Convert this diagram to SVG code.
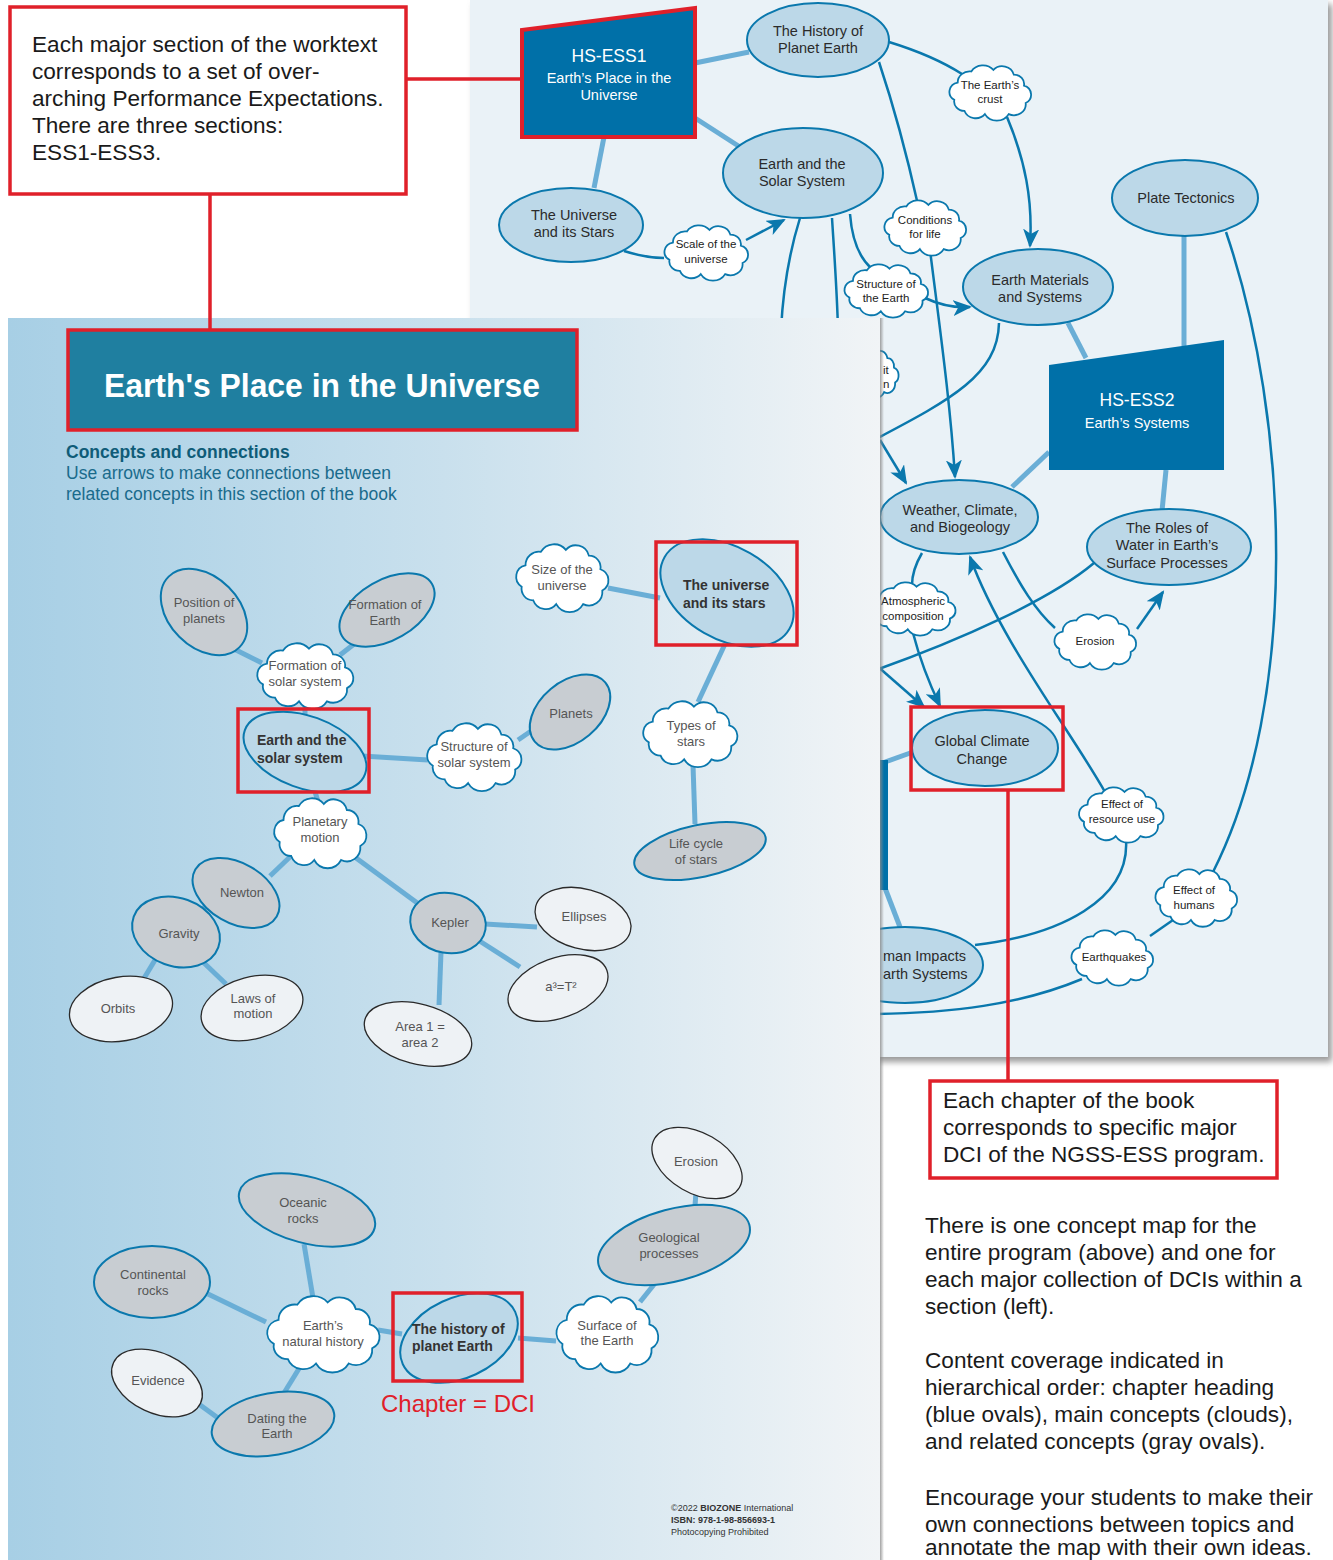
<svg xmlns="http://www.w3.org/2000/svg" width="1333" height="1560" viewBox="0 0 1333 1560">
<defs>
<style>
text{font-family:"Liberation Sans",Arial,sans-serif}
.tn{font-size:14.5px;fill:#2b2b2b;text-anchor:middle}
.tc{font-size:11.5px;fill:#222;text-anchor:middle}
.st{text-anchor:start}
.ln{font-size:13px;fill:#555;text-anchor:middle}
.lb{font-size:14px;fill:#333;font-weight:bold}
.ann{font-size:22.6px;fill:#1a1a1a}
.big{fill:#bcd8e8;stroke:#0a78ad;stroke-width:2}
.gray{fill:#c8cdd2;stroke:#0a78ad;stroke-width:2}
.lite{fill:#eef2f5;stroke:#2a2a2a;stroke-width:1.3}
.cloud{fill:#fff;stroke:#0a78ad;stroke-width:1.8}
.thick{stroke:#6aaed6;stroke-width:5;fill:none}
.thin{stroke:#0a78ad;stroke-width:2.5;fill:none}
.arr{marker-end:url(#ah)}
.red{fill:none;stroke:#e0202a;stroke-width:3.5}
.box{fill:#0070a8}
</style>
<marker id="ah" markerUnits="userSpaceOnUse" markerWidth="20" markerHeight="16" refX="17" refY="8" orient="auto">
<path d="M0,0 L19,8 L0,16 L5,8 Z" fill="#0a78ad"/>
</marker>
<path id="cl" vector-effect="non-scaling-stroke" d="M-38,-12 A14,14 0 0 1 -22,-26 A16,16 0 0 1 4,-28 A14,14 0 0 1 28,-22 A12,12 0 0 1 40,-8 A12,12 0 0 1 42,14 A14,14 0 0 1 22,28 A16,16 0 0 1 -6,28 A14,14 0 0 1 -30,24 A12,12 0 0 1 -42,10 A12,12 0 0 1 -38,-12 Z"/>
<linearGradient id="pg" x1="0" y1="0" x2="1" y2="0">
<stop offset="0" stop-color="#a7cfe5"/>
<stop offset="0.5" stop-color="#c9e0ed"/>
<stop offset="1" stop-color="#f1f4f6"/>
</linearGradient>
<linearGradient id="shg" x1="0" y1="0" x2="1" y2="0">
<stop offset="0" stop-color="#8a8a8a" stop-opacity="0.8"/>
<stop offset="1" stop-color="#8a8a8a" stop-opacity="0"/>
</linearGradient>
<filter id="sh" x="-5%" y="-5%" width="110%" height="110%"><feGaussianBlur stdDeviation="3"/></filter>
</defs>
<rect width="1333" height="1560" fill="#fff"/>

<!-- top-right page -->
<rect x="474" y="4" width="858" height="1058" fill="#9a9a9a" filter="url(#sh)"/>
<rect x="470" y="0" width="858" height="1057" fill="#eaf2f7"/>

<g id="connectors-top">
<path class="thick" d="M695,63 L749,52"/>
<path class="thick" d="M695,118 L740,147"/>
<path class="thick" d="M604,137 L594,188"/>
<path class="thick" d="M1184,236 L1184,346"/>
<path class="thick" d="M1068,323 L1086,358"/>
<path class="thick" d="M1049,452 L1012,487"/>
<path class="thick" d="M1166,470 L1162,511"/>
<path class="thick" d="M913,752 L885,762"/>
<path class="thick" d="M900,927 L885,888"/>
<path class="thin" d="M889,42 C915,50 940,60 962,74"/>
<path class="thin arr" d="M1007,117 C1025,160 1033,200 1030,246"/>
<path class="thin" d="M879,62 C895,110 908,160 918,205"/>
<path class="thin arr" d="M930,250 C940,330 950,400 955,477"/>
<path class="thin" d="M624,251 C640,256 650,258 664,258"/>
<path class="thin arr" d="M746,240 L784,220"/>
<path class="thin" d="M800,218 C790,250 783,290 781,330"/>
<path class="thin" d="M832,218 C834,250 837,290 838,330"/>
<path class="thin" d="M850,214 C852,240 860,258 871,268"/>
<path class="thin arr" d="M925,298 C940,305 955,308 970,307"/>
<path class="thin" d="M999,323 C998,375 950,400 876,439"/>
<path class="thin arr" d="M880,440 L906,483"/>
<path class="thin" d="M922,553 C915,565 912,575 912,585"/>
<path class="thin arr" d="M913,633 C920,660 930,685 940,706"/>
<path class="thin arr" d="M876,665 L924,707"/>
<path class="thin" d="M1094,563 C1050,600 960,640 876,670"/>
<path class="thin" d="M1003,552 C1020,585 1035,610 1055,628"/>
<path class="thin arr" d="M1137,629 L1163,592"/>
<path class="thin arr" d="M1105,792 C1070,730 1000,640 970,557"/>
<path class="thin" d="M1126,840 C1130,900 1060,935 975,945"/>
<path class="thin" d="M1226,232 C1290,420 1300,700 1213,872"/>
<path class="thin" d="M1150,936 L1173,920"/>
<path class="thin" d="M1082,979 C1020,1005 950,1013 876,1014"/>
</g>

<g id="n-ess1"><polygon points="522,30 695,8 695,137 522,137" class="box" stroke="#e0202a" stroke-width="4"/>
<text x="609" y="62" text-anchor="middle" font-size="17.5" fill="#fff">HS-ESS1</text>
<text x="609" y="83" text-anchor="middle" font-size="14.5" fill="#fff">Earth’s Place in the</text>
<text x="609" y="100" text-anchor="middle" font-size="14.5" fill="#fff">Universe</text></g>
<g id="n-history"><ellipse class="big" cx="818" cy="40" rx="71" ry="37"/><text class="tn" x="818" y="36">The History of</text><text class="tn" x="818" y="53">Planet Earth</text></g>
<g id="n-earthsolar"><ellipse class="big" cx="803" cy="173" rx="80" ry="45"/><text class="tn" x="802" y="169">Earth and the</text><text class="tn" x="802" y="186">Solar System</text></g>
<g id="n-universe"><ellipse class="big" cx="571" cy="225" rx="72" ry="37"/><text class="tn" x="574" y="220">The Universe</text><text class="tn" x="574" y="237">and its Stars</text></g>
<g id="n-plate"><ellipse class="big" cx="1185" cy="198" rx="73" ry="38"/><text class="tn" x="1186" y="203">Plate Tectonics</text></g>
<g id="n-materials"><ellipse class="big" cx="1038" cy="287" rx="75" ry="38"/><text class="tn" x="1040" y="285">Earth Materials</text><text class="tn" x="1040" y="302">and Systems</text></g>
<g id="n-ess3"><rect x="872" y="760" width="16" height="130" class="box"/></g>
<g id="n-ess2"><polygon points="1049,365 1224,340 1224,470 1049,470" class="box"/>
<text x="1137" y="406" text-anchor="middle" font-size="17.5" fill="#fff">HS-ESS2</text>
<text x="1137" y="428" text-anchor="middle" font-size="14.5" fill="#fff">Earth’s Systems</text></g>
<g id="n-weather"><ellipse class="big" cx="959" cy="517" rx="79" ry="37"/><text class="tn" x="960" y="515">Weather, Climate,</text><text class="tn" x="960" y="532">and Biogeology</text></g>
<g id="n-water"><ellipse class="big" cx="1169" cy="547" rx="82" ry="38"/><text class="tn" x="1167" y="533">The Roles of</text><text class="tn" x="1167" y="550">Water in Earth’s</text><text class="tn" x="1167" y="568">Surface Processes</text></g>
<g id="n-global"><ellipse class="big" cx="985" cy="748" rx="73" ry="38"/><text class="tn" x="982" y="746">Global Climate</text><text class="tn" x="982" y="764">Change</text></g>
<g id="n-human"><ellipse class="big" cx="905" cy="965" rx="78" ry="38"/><text class="tn st" x="883" y="961">man Impacts</text><text class="tn st" x="883" y="979">arth Systems</text></g>
<g id="n-crust"><use href="#cl" class="cloud" transform="translate(990,92) scale(0.85,0.79)"/><text class="tc" x="990" y="89">The Earth’s</text><text class="tc" x="990" y="103">crust</text></g>
<g id="n-scale"><use href="#cl" class="cloud" transform="translate(706,252) scale(0.87,0.79)"/><text class="tc" x="706" y="248">Scale of the</text><text class="tc" x="706" y="263">universe</text></g>
<g id="n-conditions"><use href="#cl" class="cloud" transform="translate(925,227) scale(0.85,0.79)"/><text class="tc" x="925" y="224">Conditions</text><text class="tc" x="925" y="238">for life</text></g>
<g id="n-structure"><use href="#cl" class="cloud" transform="translate(886,290) scale(0.87,0.76)"/><text class="tc" x="886" y="288">Structure of</text><text class="tc" x="886" y="302">the Earth</text></g>
<g id="n-orbit"><use href="#cl" class="cloud" transform="translate(872,373) scale(0.55,0.68)"/><text class="tc st" x="883" y="374">it</text><text class="tc st" x="883" y="388">n</text></g>
<g id="n-atmos"><use href="#cl" class="cloud" transform="translate(913,608) scale(0.88,0.76)"/><text class="tc" x="913" y="605">Atmospheric</text><text class="tc" x="913" y="620">composition</text></g>
<g id="n-erosion1"><use href="#cl" class="cloud" transform="translate(1095,641) scale(0.85,0.79)"/><text class="tc" x="1095" y="645">Erosion</text></g>
<g id="n-resource"><use href="#cl" class="cloud" transform="translate(1121,814) scale(0.88,0.79)"/><text class="tc" x="1122" y="808">Effect of</text><text class="tc" x="1122" y="823">resource use</text></g>
<g id="n-humans"><use href="#cl" class="cloud" transform="translate(1196,897) scale(0.85,0.82)"/><text class="tc" x="1194" y="894">Effect of</text><text class="tc" x="1194" y="909">humans</text></g>
<g id="n-quakes"><use href="#cl" class="cloud" transform="translate(1112,957) scale(0.85,0.79)"/><text class="tc" x="1114" y="961">Earthquakes</text></g>

<!-- left page -->
<rect x="880" y="318" width="4" height="1242" fill="url(#shg)"/>
<rect x="8" y="318" width="872" height="1242" fill="url(#pg)"/>

<g id="title"><rect x="68" y="330" width="509" height="100" fill="#1f7fa0" stroke="#e0202a" stroke-width="3.5"/>
<text x="104" y="397" font-size="34" font-weight="bold" fill="#fff" textLength="436" lengthAdjust="spacingAndGlyphs">Earth's Place in the Universe</text></g>
<text x="66" y="458" font-size="17.5" font-weight="bold" fill="#0f5c78">Concepts and connections</text>
<text x="66" y="479" font-size="17.5" fill="#1a6b8c">Use arrows to make connections between</text>
<text x="66" y="500" font-size="17.5" fill="#1a6b8c">related concepts in this section of the book</text>

<g id="connectors-left">
<path class="thick" d="M236,650 L262,663"/>
<path class="thick" d="M358,641 L340,655"/>
<path class="thick" d="M305,700 L305,716"/>
<path class="thick" d="M362,756 L428,760"/>
<path class="thick" d="M518,740 L537,727"/>
<path class="thick" d="M608,588 L660,598"/>
<path class="thick" d="M725,644 L698,702"/>
<path class="thick" d="M693,765 L695,824"/>
<path class="thick" d="M314,788 L318,802"/>
<path class="thick" d="M292,855 L270,876"/>
<path class="thick" d="M352,855 L420,905"/>
<path class="thick" d="M200,910 L212,903"/>
<path class="thick" d="M155,960 L143,980"/>
<path class="thick" d="M203,962 L226,984"/>
<path class="thick" d="M485,924 L537,927"/>
<path class="thick" d="M478,940 L520,967"/>
<path class="thick" d="M441,952 L439,1005"/>
<path class="thick" d="M304,1244 L313,1298"/>
<path class="thick" d="M208,1294 L266,1322"/>
<path class="thick" d="M378,1330 L402,1334"/>
<path class="thick" d="M300,1367 L284,1393"/>
<path class="thick" d="M196,1402 L218,1418"/>
<path class="thick" d="M518,1338 L556,1341"/>
<path class="thick" d="M640,1302 L656,1282"/>
<path class="thick" d="M695,1206 L696,1192"/>
</g>

<g id="l-universe"><ellipse class="big" cx="727" cy="593" rx="72" ry="46" transform="rotate(30 727 593)"/><text class="lb" x="683" y="590">The universe</text><text class="lb" x="683" y="608">and its stars</text></g>
<g id="l-earthsolar"><ellipse class="big" cx="305" cy="752" rx="64" ry="36" transform="rotate(20 305 752)"/><text class="lb" x="257" y="745">Earth and the</text><text class="lb" x="257" y="763">solar system</text></g>
<g id="l-history"><ellipse class="big" cx="459" cy="1338" rx="62" ry="40" transform="rotate(-25 459 1338)"/><text class="lb" x="412" y="1334">The history of</text><text class="lb" x="412" y="1351">planet Earth</text></g>

<g id="l-size"><use href="#cl" class="cloud" transform="translate(562,577) scale(0.96,0.97)"/><text class="ln" x="562" y="574">Size of the</text><text class="ln" x="562" y="590">universe</text></g>
<g id="l-formsolar"><use href="#cl" class="cloud" transform="translate(305,675) scale(1.0,0.94)"/><text class="ln" x="305" y="670">Formation of</text><text class="ln" x="305" y="686">solar system</text></g>
<g id="l-structure"><use href="#cl" class="cloud" transform="translate(474,756) scale(0.98,0.97)"/><text class="ln" x="474" y="751">Structure of</text><text class="ln" x="474" y="767">solar system</text></g>
<g id="l-types"><use href="#cl" class="cloud" transform="translate(690,733) scale(0.98,0.94)"/><text class="ln" x="691" y="730">Types of</text><text class="ln" x="691" y="746">stars</text></g>
<g id="l-planetary"><use href="#cl" class="cloud" transform="translate(320,832) scale(0.96,1.0)"/><text class="ln" x="320" y="826">Planetary</text><text class="ln" x="320" y="842">motion</text></g>
<g id="l-natural"><use href="#cl" class="cloud" transform="translate(323,1333) scale(1.17,1.09)"/><text class="ln" x="323" y="1330">Earth’s</text><text class="ln" x="323" y="1346">natural history</text></g>
<g id="l-surface"><use href="#cl" class="cloud" transform="translate(607,1333) scale(1.06,1.09)"/><text class="ln" x="607" y="1330">Surface of</text><text class="ln" x="607" y="1345">the Earth</text></g>

<g id="l-position"><ellipse class="gray" cx="204" cy="612" rx="50" ry="35" transform="rotate(45 204 612)"/><text class="ln" x="204" y="607">Position of</text><text class="ln" x="204" y="623">planets</text></g>
<g id="l-formearth"><ellipse class="gray" cx="387" cy="610" rx="52" ry="30" transform="rotate(-30 387 610)"/><text class="ln" x="385" y="609">Formation of</text><text class="ln" x="385" y="625">Earth</text></g>
<g id="l-planets"><ellipse class="gray" cx="570" cy="712" rx="46" ry="30" transform="rotate(-40 570 712)"/><text class="ln" x="571" y="718">Planets</text></g>
<g id="l-lifecycle"><ellipse class="gray" cx="700" cy="851" rx="67" ry="26" transform="rotate(-12 700 851)"/><text class="ln" x="696" y="848">Life cycle</text><text class="ln" x="696" y="864">of stars</text></g>
<g id="l-newton"><ellipse class="gray" cx="236" cy="893" rx="47" ry="30" transform="rotate(30 236 893)"/><text class="ln" x="242" y="897">Newton</text></g>
<g id="l-gravity"><ellipse class="gray" cx="176" cy="932" rx="45" ry="34" transform="rotate(20 176 932)"/><text class="ln" x="179" y="938">Gravity</text></g>
<g id="l-kepler"><ellipse class="gray" cx="448" cy="923" rx="38" ry="30" transform="rotate(10 448 923)"/><text class="ln" x="450" y="927">Kepler</text></g>
<g id="l-oceanic"><ellipse class="gray" cx="307" cy="1210" rx="70" ry="33" transform="rotate(15 307 1210)"/><text class="ln" x="303" y="1207">Oceanic</text><text class="ln" x="303" y="1223">rocks</text></g>
<g id="l-continental"><ellipse class="gray" cx="152" cy="1282" rx="58" ry="36"/><text class="ln" x="153" y="1279">Continental</text><text class="ln" x="153" y="1295">rocks</text></g>
<g id="l-geo"><ellipse class="gray" cx="674" cy="1245" rx="78" ry="36" transform="rotate(-15 674 1245)"/><text class="ln" x="669" y="1242">Geological</text><text class="ln" x="669" y="1258">processes</text></g>
<g id="l-dating"><ellipse class="gray" cx="273" cy="1424" rx="62" ry="31" transform="rotate(-10 273 1424)"/><text class="ln" x="277" y="1423">Dating the</text><text class="ln" x="277" y="1438">Earth</text></g>

<g id="l-orbits"><ellipse class="lite" cx="121" cy="1009" rx="52" ry="32" transform="rotate(-10 121 1009)"/><text class="ln" x="118" y="1013">Orbits</text></g>
<g id="l-laws"><ellipse class="lite" cx="252" cy="1008" rx="52" ry="31" transform="rotate(-15 252 1008)"/><text class="ln" x="253" y="1003">Laws of</text><text class="ln" x="253" y="1018">motion</text></g>
<g id="l-ellipses"><ellipse class="lite" cx="583" cy="919" rx="49" ry="30" transform="rotate(15 583 919)"/><text class="ln" x="584" y="921">Ellipses</text></g>
<g id="l-a3"><ellipse class="lite" cx="558" cy="988" rx="52" ry="30" transform="rotate(-20 558 988)"/><text class="ln" x="561" y="991">a³=T²</text></g>
<g id="l-area"><ellipse class="lite" cx="418" cy="1034" rx="55" ry="30" transform="rotate(15 418 1034)"/><text class="ln" x="420" y="1031">Area 1 =</text><text class="ln" x="420" y="1047">area 2</text></g>
<g id="l-erosion"><ellipse class="lite" cx="697" cy="1163" rx="49" ry="30" transform="rotate(30 697 1163)"/><text class="ln" x="696" y="1166">Erosion</text></g>
<g id="l-evidence"><ellipse class="lite" cx="157" cy="1383" rx="48" ry="30" transform="rotate(25 157 1383)"/><text class="ln" x="158" y="1385">Evidence</text></g>

<!-- red highlight boxes -->
<rect class="red" x="656" y="542" width="141" height="103"/>
<rect class="red" x="238" y="709" width="131" height="83"/>
<rect class="red" x="393" y="1293" width="129" height="88"/>
<rect class="red" x="911" y="707" width="152" height="83"/>
<text x="458" y="1412" text-anchor="middle" font-size="24" fill="#e0202a">Chapter = DCI</text>

<text x="671" y="1511" font-size="9" fill="#333">©2022 <tspan font-weight="bold">BIOZONE</tspan> International</text>
<text x="671" y="1523" font-size="9" font-weight="bold" fill="#333">ISBN: 978-1-98-856693-1</text>
<text x="671" y="1535" font-size="9" fill="#333">Photocopying Prohibited</text>

<!-- annotations -->
<g id="ann-top">
<path d="M406,79 L522,79 M210,194 L210,330" stroke="#e0202a" stroke-width="3.5" fill="none"/>
<rect x="10" y="7" width="396" height="187" fill="#fff" stroke="#e0202a" stroke-width="3.5"/>
<text class="ann" x="32" y="52">Each major section of the worktext</text>
<text class="ann" x="32" y="79">corresponds to a set of over-</text>
<text class="ann" x="32" y="106">arching Performance Expectations.</text>
<text class="ann" x="32" y="133">There are three sections:</text>
<text class="ann" x="32" y="160">ESS1-ESS3.</text>
</g>
<g id="ann-chapter">
<path d="M1008,790 L1008,1081" stroke="#e0202a" stroke-width="3.5" fill="none"/>
<rect x="930" y="1081" width="347" height="97" fill="#fff" stroke="#e0202a" stroke-width="3.5"/>
<text class="ann" x="943" y="1108">Each chapter of the book</text>
<text class="ann" x="943" y="1135">corresponds to specific major</text>
<text class="ann" x="943" y="1162">DCI of the NGSS-ESS program.</text>
</g>
<g id="ann-text">
<text class="ann" x="925" y="1233">There is one concept map for the</text>
<text class="ann" x="925" y="1260">entire program (above) and one for</text>
<text class="ann" x="925" y="1287">each major collection of DCIs within a</text>
<text class="ann" x="925" y="1314">section (left).</text>
<text class="ann" x="925" y="1368">Content coverage indicated in</text>
<text class="ann" x="925" y="1395">hierarchical order: chapter heading</text>
<text class="ann" x="925" y="1422">(blue ovals), main concepts (clouds),</text>
<text class="ann" x="925" y="1449">and related concepts (gray ovals).</text>
<text class="ann" x="925" y="1505">Encourage your students to make their</text>
<text class="ann" x="925" y="1532">own connections between topics and</text>
<text class="ann" x="925" y="1555">annotate the map with their own ideas.</text>
</g>
</svg>
